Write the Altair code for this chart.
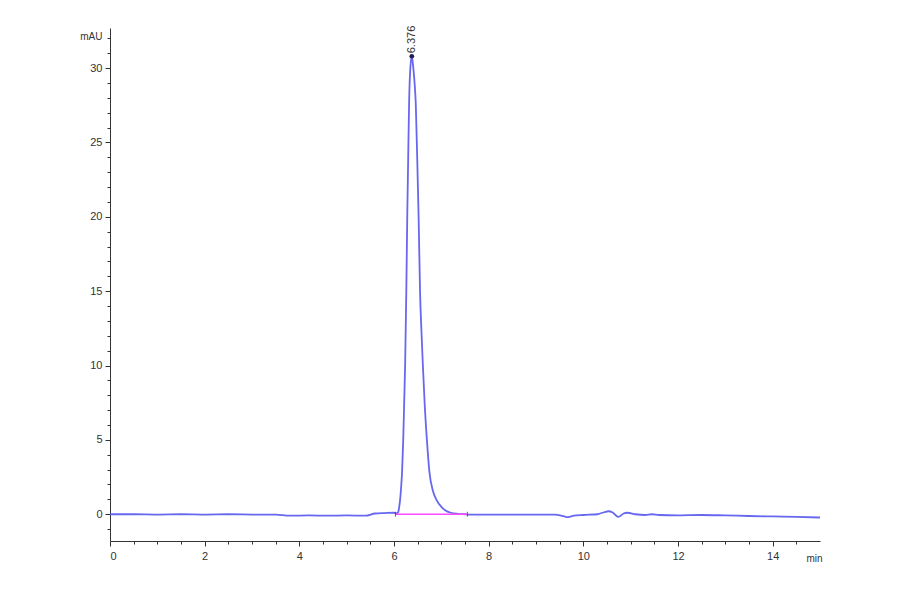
import altair as alt
import pandas as pd

# ---- data ----
time_min = [0.0, 0.5, 1.0, 1.5, 2.0, 2.5, 3.0, 3.5, 3.8, 4.2, 4.6, 5.0, 5.4, 5.6, 5.8, 6.0, 6.05,
            6.09, 6.11, 6.13, 6.15, 6.17, 6.195, 6.215, 6.235, 6.26, 6.28, 6.30, 6.32, 6.345, 6.376,
            6.405, 6.435, 6.46, 6.49, 6.52, 6.55, 6.58, 6.61, 6.65, 6.695, 6.75, 6.82, 6.90, 7.0, 7.08, 7.2,
            7.35, 7.5, 7.6, 8.0, 8.5, 9.0, 9.4, 9.6, 9.68, 9.8, 10.0, 10.3, 10.45, 10.53, 10.62,
            10.74, 10.85, 10.93, 11.1, 11.3, 11.45, 11.6, 12.0, 12.5, 13.0, 13.5, 14.0, 14.5, 15.0]
signal_mau = [0.0, 0.0, -0.02, 0.0, -0.02, 0.0, -0.02, -0.03, -0.1, -0.08, -0.1, -0.08, -0.1, 0.05, 0.08, 0.1, 0.05,
              0.15, 0.5, 1.0, 1.8, 2.8, 5.0, 7.5, 10.0, 15.0, 20.0, 24.0, 27.8, 30.0, 30.8,
              30.1, 29.0, 27.6, 24.0, 20.0, 15.0, 12.3, 10.0, 7.3, 5.0, 2.8, 1.6, 0.95, 0.5, 0.27, 0.1,
              0.03, 0.0, -0.02, -0.02, -0.02, -0.03, -0.02, -0.15, -0.2, -0.1, -0.05, 0.0, 0.15, 0.2, 0.12,
              -0.18, 0.05, 0.1, 0.0, -0.05, 0.0, -0.05, -0.07, -0.05, -0.08, -0.12, -0.15, -0.18, -0.22]

base_t = [6.03, 7.55]
base_v = [0.0, 0.0]

peak_t = [6.376]
peak_v = [30.8]
peak_label = ["6.376"]

x_major_values = [0, 2, 4, 6, 8, 10, 12, 14]
x_minor_values = [0.5, 1, 1.5, 2.5, 3, 3.5, 4.5, 5, 5.5, 6.5, 7, 7.5, 8.5, 9, 9.5,
                  10.5, 11, 11.5, 12.5, 13, 13.5, 14.5]
y_major_values = [0, 5, 10, 15, 20, 25, 30]
y_minor_values = [-1, 1, 2, 3, 4, 6, 7, 8, 9, 11, 12, 13, 14, 16, 17, 18, 19,
                  21, 22, 23, 24, 26, 27, 28, 29, 31, 32]

trace = pd.DataFrame({"t": time_min, "v": signal_mau})
base = pd.DataFrame({"t": base_t, "v": base_v})
peak = pd.DataFrame({"t": peak_t, "v": peak_v, "label": peak_label})

FONT = "Liberation Sans"
INK = "#333"
xscale = alt.Scale(domain=[0, 15], nice=False, zero=False)
yscale = alt.Scale(domain=[-1.8, 32.7], nice=False, zero=False)

x_axis = alt.Axis(
    values=x_major_values, orient="bottom", format="d",
    labelOverlap=False, tickSize=5,
    grid=False, domainColor=INK, tickColor=INK, domainWidth=1, tickWidth=1,
    labelFont=FONT, labelFontSize=11, labelColor=INK, labelPadding=4,
    title="min", titleFont=FONT, titleFontSize=10, titleFontWeight="normal", titleColor=INK,
    titleAngle=0, titleAlign="right", titleBaseline="middle", titleX=712, titleY=17,
)
x_minor_axis = alt.Axis(
    values=x_minor_values, orient="bottom", labels=False, domain=False, title=None,
    tickSize=3, tickColor=INK, tickWidth=1, grid=False,
)
y_axis = alt.Axis(
    values=y_major_values, orient="left",
    labelOverlap=False, tickSize=5,
    grid=False, domainColor=INK, tickColor=INK, domainWidth=1, tickWidth=1,
    labelFont=FONT, labelFontSize=11, labelColor=INK, labelPadding=3,
    title="mAU", titleFont=FONT, titleFontSize=10, titleFontWeight="normal", titleColor=INK,
    titleAngle=0, titleAlign="right", titleBaseline="middle", titleX=-8, titleY=8,
)
y_minor_axis = alt.Axis(
    values=y_minor_values, orient="left", labels=False, domain=False, title=None,
    tickSize=3, tickColor=INK, tickWidth=1, grid=False,
)

X = alt.X("t:Q", scale=xscale, axis=x_axis)
Y = alt.Y("v:Q", scale=yscale, axis=y_axis)

line = alt.Chart(trace).mark_line(color="#5656ee", strokeWidth=1.8, opacity=0.9,
                                  interpolate="monotone").encode(x=X, y=Y)
baseline = alt.Chart(base).mark_line(color="#ff4cff", strokeWidth=1.5).encode(x=X, y=Y)
ends = alt.Chart(base).mark_tick(orient="vertical", size=5, thickness=1, color=INK).encode(x=X, y=Y)
marker = alt.Chart(peak).mark_point(filled=True, size=22, color="#1f1f55", opacity=1).encode(x=X, y=Y)
label = alt.Chart(peak).mark_text(angle=270, align="left", baseline="middle", dx=3,
                                  font=FONT, fontSize=11, color=INK).encode(
    x=X, y=Y, text="label:N"
)
minor = alt.Chart(peak).mark_point(opacity=0).encode(
    x=alt.X("t:Q", scale=xscale, axis=x_minor_axis),
    y=alt.Y("v:Q", scale=yscale, axis=y_minor_axis),
)

main = alt.layer(line, baseline, ends, marker, label)

chart = alt.layer(main, minor).resolve_axis(x="independent", y="independent").properties(
    width=710, height=513,
    background="white",
    autosize=alt.AutoSizeParams(type="none"),
    padding={"left": 102, "top": 20, "right": 60, "bottom": 40},
).configure_view(stroke=None)

chart.save("out.html", embed_options={"renderer": "svg", "actions": False})
